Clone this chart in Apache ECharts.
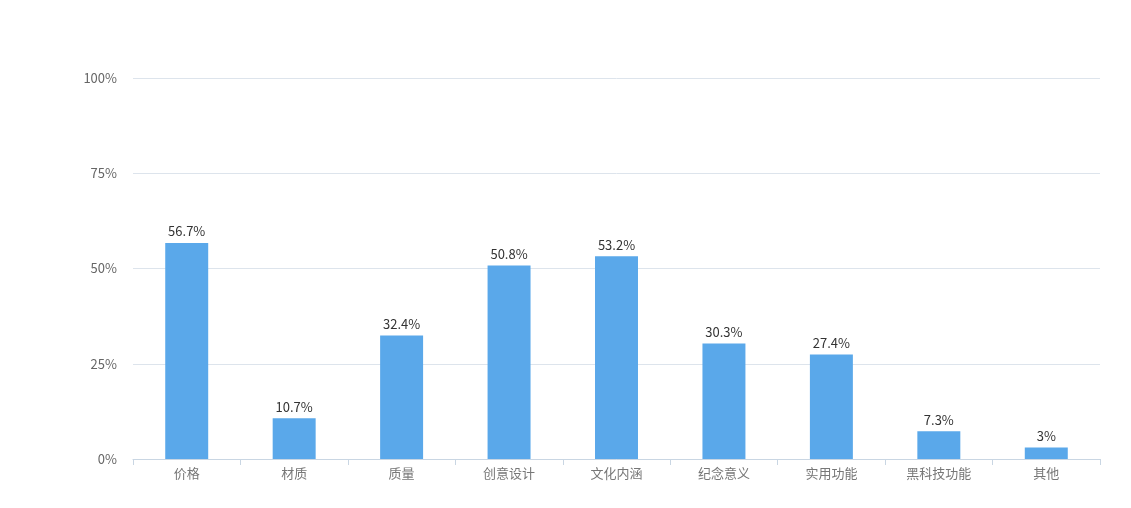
<!DOCTYPE html>
<html>
<head>
<meta charset="utf-8">
<script src="https://cdn.jsdelivr.net/npm/echarts@6/dist/echarts.min.js"></script>
<style>
  html, body { margin: 0; padding: 0; background: #fff; }
  #chart { width: 1131px; height: 508px; }
</style>
</head>
<body>
<div id="chart"></div>
<script>
// 购买因素占比
const categories = ['价格', '材质', '质量', '创意设计', '文化内涵', '纪念意义', '实用功能', '黑科技功能', '其他']
const values = [56.7, 10.7, 32.4, 50.8, 53.2, 30.3, 27.4, 7.3, 3]

const chart = echarts.init(document.getElementById('chart'), null, { renderer: 'canvas' })

chart.setOption({
  animation: false,
  backgroundColor: '#fff',
  textStyle: { fontFamily: '"Noto Sans CJK SC", "Noto Sans", sans-serif' },
  grid: { left: 133, right: 31, top: 78, bottom: 49, containLabel: false },
  xAxis: {
    type: 'category',
    data: categories,
    axisLine: { lineStyle: { color: '#c9d6e3' } },
    axisTick: { show: true, length: 6, lineStyle: { color: '#c9d6e3' } },
    axisLabel: { color: '#777', fontSize: 13, margin: 8 },
  },
  yAxis: {
    type: 'value',
    min: 0,
    max: 100,
    interval: 25,
    axisLine: { show: false },
    axisTick: { show: false },
    axisLabel: { color: '#666', fontSize: 13, margin: 16, formatter: v => v + '%' },
    splitLine: { lineStyle: { color: '#dde4ec' } },
  },
  series: [{
    type: 'bar',
    data: values,
    barWidth: '40%',
    itemStyle: { color: '#5aa8ea' },
    label: {
      show: true,
      position: 'top',
      color: '#333',
      fontSize: 13,
      distance: 5,
      formatter: p => p.value + '%',
    },
  }],
})
</script>
</body>
</html>
